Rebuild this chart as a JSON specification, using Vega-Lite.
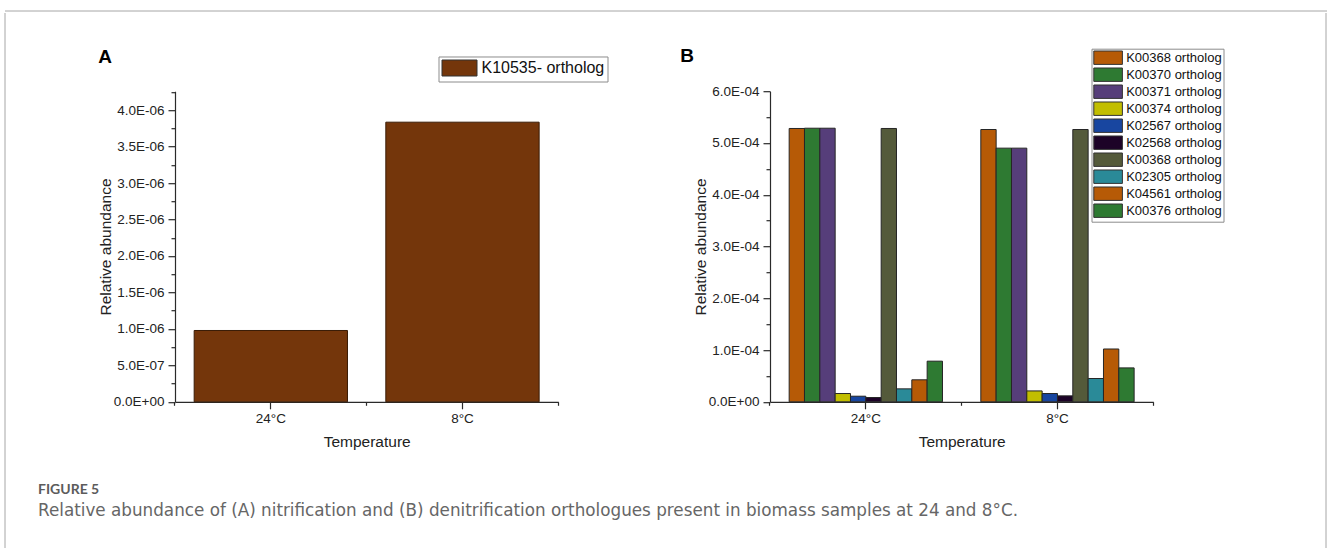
{
  "$schema": "https://vega.github.io/schema/vega-lite/v6.json",
  "padding": {"left": 3.5, "top": 9.5, "right": 0, "bottom": 0},
  "background": "white",
  "config": {
    "view": {"stroke": null},
    "font": "Liberation Sans",
    "axis": {
      "grid": false,
      "domainColor": "#2a2a2a",
      "domainWidth": 1.2,
      "tickColor": "#2a2a2a",
      "tickWidth": 1.2,
      "labelFont": "Liberation Sans",
      "labelFontSize": 13.5,
      "labelColor": "#222222",
      "titleFont": "Liberation Sans",
      "titleFontSize": 15.5,
      "titleFontWeight": "normal",
      "titleColor": "#222222"
    },
    "legend": {
      "title": null,
      "fillColor": "white",
      "strokeColor": "#8c8c8c",
      "labelFont": "Liberation Sans",
      "labelColor": "#111111",
      "symbolStrokeColor": "#333333",
      "symbolStrokeWidth": 1,
      "symbolOpacity": 1
    }
  },
  "spacing": 0,
  "align": "each",
  "vconcat": [
    {
      "width": 1322,
      "height": 0.01,
      "view": {"stroke": "#c4c4c4"},
      "data": {"values": []},
      "mark": "point"
    },
    {
      "spacing": 32.5,
      "align": "each",
      "hconcat": [
        {
          "width": 0.01,
          "height": 537,
          "view": {"stroke": "#c4c4c4"},
          "data": {"values": []},
          "mark": "point"
        },
        {
          "spacing": 100.5,
          "align": "each",
          "hconcat": [
            {
              "spacing": 32.7,
              "align": "each",
              "vconcat": [
                {"width": 1, "height": 1.3, "data": {"values": []}, "mark": "point"},
                {
                  "spacing": 59,
                  "align": "each",
                  "hconcat": [
                    {"width": 1, "height": 1, "data": {"values": []}, "mark": "point"},
                    {
                      "spacing": 72,
                      "align": "each",
                      "resolve": {
                        "scale": {"x": "independent", "y": "independent", "color": "independent", "xOffset": "independent"},
                        "axis": {"x": "independent", "y": "independent"},
                        "legend": {"color": "independent"}
                      },
                      "hconcat": [
                        {
                          "title": {"text": "A", "anchor": "start", "frame": "bounds", "font": "Liberation Sans", "fontSize": 19, "fontWeight": "bold", "color": "#000000", "offset": -10.7},
                          "width": 383.3,
                          "height": 310.6,
                          "data": {"values": [
                            {"temp": "24°C", "gene": "K10535- ortholog", "abundance": 9.78e-7},
                            {"temp": "8°C", "gene": "K10535- ortholog", "abundance": 3.835e-6}
                          ]},
                          "layer": [
                            {
                              "mark": {"type": "bar", "stroke": "#3a1c06", "strokeWidth": 1},
                              "encoding": {
                                "x": {
                                  "field": "temp", "type": "nominal", "sort": ["24°C", "8°C"],
                                  "scale": {"paddingInner": 0.2, "paddingOuter": 0.1},
                                  "axis": {"orient": "bottom", "title": "Temperature", "labelAngle": 0, "tickSize": 7, "labelPadding": 3, "titlePadding": 9}
                                },
                                "y": {
                                  "field": "abundance", "type": "quantitative", "stack": null,
                                  "scale": {"domain": [0, 4.26e-6], "nice": false, "zero": true},
                                  "axis": {
                                    "orient": "left", "title": "Relative abundance", "tickSize": 7, "labelPadding": 4, "titlePadding": 0,
                                    "values": [0, 5e-7, 1e-6, 1.5e-6, 2e-6, 2.5e-6, 3e-6, 3.5e-6, 4e-6],
                                    "labelExpr": "replace(replace(format(datum.value, '.1e'), 'e-', 'E-0'), 'e+', 'E+0')"
                                  }
                                },
                                "color": {
                                  "field": "gene", "type": "nominal",
                                  "scale": {"range": ["#74360b"]},
                                  "legend": {
                                    "orient": "none", "legendX": 263.5, "legendY": -34.7, "padding": 3,
                                    "labelFontSize": 16, "labelOffset": 23,
                                    "symbolType": "M-1,-1H3.375V1H-1Z", "symbolSize": 256
                                  }
                                }
                              }
                            },
                            {
                              "mark": {"type": "point", "opacity": 0},
                              "encoding": {
                                "x": {
                                  "field": "temp", "type": "nominal", "sort": ["24°C", "8°C"],
                                  "axis": {"orient": "bottom", "bandPosition": -0.125, "labels": false, "domain": false, "tickSize": 3.5, "title": null}
                                },
                                "y": {
                                  "field": "abundance", "type": "quantitative",
                                  "axis": {
                                    "orient": "left", "labels": false, "domain": false, "tickSize": 4, "title": null,
                                    "values": [2.5e-7, 7.5e-7, 1.25e-6, 1.75e-6, 2.25e-6, 2.75e-6, 3.25e-6, 3.75e-6, 4.25e-6]
                                  }
                                }
                              }
                            },
                            {
                              "mark": {"type": "point", "opacity": 0},
                              "encoding": {
                                "x": {
                                  "field": "temp", "type": "nominal", "sort": ["24°C", "8°C"],
                                  "axis": {"orient": "bottom", "bandPosition": 1.125, "values": ["8°C"], "labels": false, "domain": false, "tickSize": 3.5, "title": null}
                                },
                                "y": {"field": "abundance", "type": "quantitative", "axis": null}
                              }
                            }
                          ],
                          "resolve": {"axis": {"x": "independent", "y": "independent"}}
                        },
                        {
                          "title": {"text": "B", "anchor": "start", "frame": "bounds", "font": "Liberation Sans", "fontSize": 19, "fontWeight": "bold", "color": "#000000", "offset": -18.3, "dx": -13},
                          "width": 383.3,
                          "height": 310.6,
                          "data": {"values": [
                            {"temp": "24°C", "series": "K00368 ortholog", "abundance": 5.28e-4},
                            {"temp": "24°C", "series": "K00370 ortholog", "abundance": 5.285e-4},
                            {"temp": "24°C", "series": "K00371 ortholog", "abundance": 5.285e-4},
                            {"temp": "24°C", "series": "K00374 ortholog", "abundance": 1.6e-5},
                            {"temp": "24°C", "series": "K02567 ortholog", "abundance": 1.08e-5},
                            {"temp": "24°C", "series": "K02568 ortholog", "abundance": 8.3e-6},
                            {"temp": "24°C", "series": "K00368 ortholog\u200b", "abundance": 5.28e-4},
                            {"temp": "24°C", "series": "K02305 ortholog", "abundance": 2.5e-5},
                            {"temp": "24°C", "series": "K04561 ortholog", "abundance": 4.25e-5},
                            {"temp": "24°C", "series": "K00376 ortholog", "abundance": 7.85e-5},
                            {"temp": "8°C", "series": "K00368 ortholog", "abundance": 5.26e-4},
                            {"temp": "8°C", "series": "K00370 ortholog", "abundance": 4.9e-4},
                            {"temp": "8°C", "series": "K00371 ortholog", "abundance": 4.9e-4},
                            {"temp": "8°C", "series": "K00374 ortholog", "abundance": 2.1e-5},
                            {"temp": "8°C", "series": "K02567 ortholog", "abundance": 1.6e-5},
                            {"temp": "8°C", "series": "K02568 ortholog", "abundance": 1.15e-5},
                            {"temp": "8°C", "series": "K00368 ortholog\u200b", "abundance": 5.26e-4},
                            {"temp": "8°C", "series": "K02305 ortholog", "abundance": 4.5e-5},
                            {"temp": "8°C", "series": "K04561 ortholog", "abundance": 1.02e-4},
                            {"temp": "8°C", "series": "K00376 ortholog", "abundance": 6.55e-5}
                          ]},
                          "layer": [
                            {
                              "mark": {"type": "bar", "stroke": "#262626", "strokeWidth": 1},
                              "encoding": {
                                "x": {
                                  "field": "temp", "type": "nominal", "sort": ["24°C", "8°C"],
                                  "scale": {"paddingInner": 0.2, "paddingOuter": 0.1},
                                  "axis": {"orient": "bottom", "title": "Temperature", "labelAngle": 0, "tickSize": 7, "labelPadding": 3, "titlePadding": 9}
                                },
                                "xOffset": {
                                  "field": "series", "type": "nominal",
                                  "scale": {
                                    "domain": ["K00368 ortholog", "K00370 ortholog", "K00371 ortholog", "K00374 ortholog", "K02567 ortholog", "K02568 ortholog", "K00368 ortholog\u200b", "K02305 ortholog", "K04561 ortholog", "K00376 ortholog"],
                                    "paddingInner": 0, "paddingOuter": 0
                                  }
                                },
                                "y": {
                                  "field": "abundance", "type": "quantitative", "stack": null,
                                  "scale": {"domain": [0, 6e-4], "nice": false, "zero": true},
                                  "axis": {
                                    "orient": "left", "title": "Relative abundance", "tickSize": 7, "labelPadding": 4, "titlePadding": 0,
                                    "values": [0, 1e-4, 2e-4, 3e-4, 4e-4, 5e-4, 6e-4],
                                    "labelExpr": "replace(replace(format(datum.value, '.1e'), 'e-', 'E-0'), 'e+', 'E+0')"
                                  }
                                },
                                "color": {
                                  "field": "series", "type": "nominal",
                                  "scale": {
                                    "domain": ["K00368 ortholog", "K00370 ortholog", "K00371 ortholog", "K00374 ortholog", "K02567 ortholog", "K02568 ortholog", "K00368 ortholog\u200b", "K02305 ortholog", "K04561 ortholog", "K00376 ortholog"],
                                    "range": ["#b65a06", "#2e7a32", "#563e7a", "#c2be00", "#1846a0", "#1d0327", "#545a3a", "#2a8a98", "#b65a06", "#2e7a32"]
                                  },
                                  "legend": {
                                    "orient": "none", "legendX": 321.5, "legendY": -42.5, "padding": 1.5,
                                    "labelFontSize": 13, "labelOffset": 18.2, "rowPadding": -3.4,
                                    "symbolType": "M-1,-1H3.269V1H-1Z", "symbolSize": 179.6
                                  }
                                }
                              }
                            },
                            {
                              "mark": {"type": "point", "opacity": 0},
                              "encoding": {
                                "x": {
                                  "field": "temp", "type": "nominal", "sort": ["24°C", "8°C"],
                                  "axis": {"orient": "bottom", "bandPosition": -0.125, "labels": false, "domain": false, "tickSize": 3.5, "title": null}
                                },
                                "y": {
                                  "field": "abundance", "type": "quantitative",
                                  "axis": {
                                    "orient": "left", "labels": false, "domain": false, "tickSize": 4, "title": null,
                                    "values": [5e-5, 1.5e-4, 2.5e-4, 3.5e-4, 4.5e-4, 5.5e-4]
                                  }
                                }
                              }
                            },
                            {
                              "mark": {"type": "point", "opacity": 0},
                              "encoding": {
                                "x": {
                                  "field": "temp", "type": "nominal", "sort": ["24°C", "8°C"],
                                  "axis": {"orient": "bottom", "bandPosition": 1.125, "values": ["8°C"], "labels": false, "domain": false, "tickSize": 3.5, "title": null}
                                },
                                "y": {"field": "abundance", "type": "quantitative", "axis": null}
                              }
                            }
                          ],
                          "resolve": {"axis": {"x": "independent", "y": "independent"}}
                        }
                      ]
                    }
                  ]
                },
                {
                  "width": 980,
                  "height": 0.01,
                  "data": {"values": []},
                  "mark": "point",
                  "title": {
                    "text": "FIGURE 5",
                    "subtitle": "Relative abundance of (A) nitrification and (B) denitrification orthologues present in biomass samples at 24 and 8°C.",
                    "anchor": "start",
                    "frame": "group",
                    "offset": 0,
                    "font": "Lato",
                    "fontSize": 14,
                    "fontWeight": 700,
                    "color": "#5c5c5c",
                    "subtitleFont": "DejaVu Sans",
                    "subtitleFontSize": 16.8,
                    "subtitleFontWeight": "normal",
                    "subtitleColor": "#666666",
                    "subtitlePadding": 6
                  }
                }
              ]
            },
            {
              "width": 0.01,
              "height": 537,
              "view": {"stroke": "#c4c4c4"},
              "data": {"values": []},
              "mark": "point"
            }
          ]
        }
      ]
    }
  ]
}
